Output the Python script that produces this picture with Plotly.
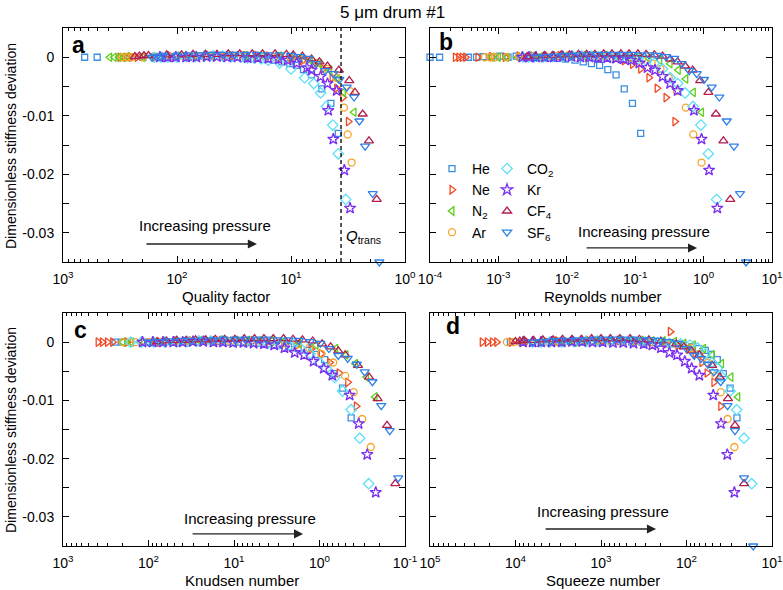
import plotly.graph_objects as go

W, H = 783, 590

# stiffness deviation per gas (same in every panel) and log10 of the x value in each panel
# order: increasing pressure. panels: q = quality factor, re = Reynolds, kn = Knudsen, sq = squeeze number
he_dev = [0, 0, 0, 0, 0.0001, 0, 0.0002, 0, 0.0002, 0.0001, 0, 0, -0.0001, -0.0002, -0.0003, -0.0005,
          -0.0008, -0.0011, -0.0014, -0.0021, -0.0030, -0.0054, -0.0079, -0.0130]
he_q_log = [2.81, 2.70, 2.42, 2.3, 2.2, 2.1, 2.0, 1.9, 1.8, 1.7, 1.6, 1.5, 1.4, 1.3, 1.2, 1.14,
            1.08, 1.01, 0.95, 0.89, 0.82, 0.73, 0.65, 0.585]
he_re_log = [-4.0, -3.86, -3.44, -3.32, -3.22, -3.1, -2.98, -2.86, -2.74, -2.62, -2.5, -2.38, -2.26, -2.14, -2.02, -1.88,
             -1.76, -1.64, -1.52, -1.40, -1.28, -1.16, -1.04, -0.92]
he_kn_log = [2.39, 2.31, 2.01, 1.89, 1.79, 1.67, 1.55, 1.43, 1.31, 1.19, 1.07, 0.95, 0.83, 0.71, 0.59, 0.47,
             0.36, 0.25, 0.14, 0.04, -0.06, -0.17, -0.27, -0.37]
he_sq_log = [4.06, 3.92, 3.6, 3.48, 3.36, 3.24, 3.12, 3.0, 2.88, 2.76, 2.64, 2.52, 2.40, 2.28, 2.16, 2.04,
             1.94, 1.86, 1.78, 1.71, 1.64, 1.57, 1.49, 1.41]

ne_dev = [0, 0, 0, 0, 0, 0.0001, 0, 0.0002, 0.0002, 0.0003, 0.0003, 0.0003, 0.0002, 0.0001, -0.0002, -0.0006,
          -0.0012, -0.0020, -0.0035, -0.0053, -0.0069, -0.0110, 0.0018]
ne_q_log = [2.5, 2.45, 2.4, 2.35, 2.2, 2.05, 1.9, 1.75, 1.6, 1.5, 1.4, 1.3, 1.2, 1.1, 1.0, 0.9,
            0.8, 0.72, 0.64, 0.6, 0.546, 0.497, None]
ne_re_log = [-3.63, -3.58, -3.53, -3.48, -3.3, -3.1, -2.9, -2.7, -2.5, -2.3, -2.1, -1.9, -1.7, -1.5, -1.3, -1.16,
             -1.04, -0.92, -0.80, -0.68, -0.55, -0.42, None]
ne_kn_log = [2.59, 2.54, 2.48, 2.42, 2.25, 2.06, 1.87, 1.68, 1.5, 1.32, 1.14, 0.96, 0.78, 0.6, 0.42, 0.27,
             0.1, -0.02, -0.12, -0.23, -0.33, -0.43, None]
ne_sq_log = [4.39, 4.33, 4.27, 4.22, 4.05, 3.87, 3.69, 3.51, 3.33, 3.15, 2.97, 2.79, 2.61, 2.43, 2.25, 2.1,
             1.98, 1.9, 1.82, 1.76, 1.68, 1.60, 2.19]

n2_dev = [0, 0, 0, 0, 0.0001, 0, 0.0001, 0.0002, 0.0002, 0.0003, 0.0003, 0.0003, 0.0002, 0.0002, 0.0001, -0.0002,
          -0.0005, -0.0011, -0.0022, -0.0037, -0.0060, -0.0094]
n2_q_log = [2.59, 2.55, 2.51, 2.47, 2.44, 2.3, 2.15, 2.0, 1.85, 1.7, 1.55, 1.4, 1.25, 1.1, 1.0, 0.92,
            0.83, 0.75, 0.66, 0.594, 0.541, 0.447]
n2_re_log = [-3.1, -3.0, -2.88, -2.72, -2.56, -2.4, -2.24, -2.08, -1.92, -1.76, -1.6, -1.44, -1.28, -1.12, -0.96, -0.8,
             -0.64, -0.49, -0.37, -0.26, -0.15, -0.03]
n2_kn_log = [2.3, 2.2, 2.1, 1.96, 1.82, 1.68, 1.54, 1.4, 1.26, 1.12, 0.98, 0.84, 0.7, 0.56, 0.42, 0.24,
             0.04, -0.19, -0.31, -0.42, -0.55, -0.65]
n2_sq_log = [3.9, 3.8, 3.7, 3.57, 3.44, 3.31, 3.18, 3.05, 2.92, 2.79, 2.66, 2.53, 2.4, 2.27, 2.14, 2.03,
             1.92, 1.8, 1.7, 1.59, 1.48, 1.40]

ar_dev = [0, 0, 0, 0, 0.0001, 0.0001, 0.0002, 0.0002, 0.0003, 0.0002, 0.0002, 0.0001, 0, -0.0002,
          -0.0004, -0.0010, -0.0020, -0.0035, -0.0058, -0.0086, -0.0132, -0.0180]
ar_q_log = [2.48, 2.44, 2.4, 2.3, 2.18, 2.06, 1.94, 1.82, 1.7, 1.58, 1.46, 1.3, 1.15, 1.0,
            0.88, 0.77, 0.68, 0.6, 0.482, 0.535, 0.503, 0.468]
ar_re_log = [-3.2, -3.12, -3.05, -2.88, -2.7, -2.52, -2.34, -2.16, -1.98, -1.8, -1.62, -1.44, -1.26, -1.08,
             -0.9, -0.76, -0.63, -0.51, -0.39, -0.26, -0.15, -0.03]
ar_kn_log = [2.3, 2.22, 2.15, 2.0, 1.84, 1.68, 1.52, 1.36, 1.2, 1.04, 0.88, 0.72, 0.56, 0.4,
             0.26, 0.12, -0.02, -0.16, -0.3, -0.4, -0.5, -0.6]
ar_sq_log = [4.1, 4.02, 3.95, 3.8, 3.65, 3.5, 3.35, 3.2, 3.05, 2.9, 2.75, 2.6, 2.42, 2.24,
             2.06, 1.95, 1.85, 1.75, 1.66, 1.6, 1.52, 1.44]

co2_dev = [0, 0, 0, 0, 0.0001, 0.0001, 0.0002, 0.0002, 0.0002, 0.0001, 0, -0.0001, -0.0002, -0.0003,
           -0.0005, -0.0010, -0.0020, -0.0035, -0.0045, -0.0061, -0.0084, -0.0116, -0.0165, -0.0243]
co2_q_log = [2.2, 2.14, 2.08, 2.0, 1.92, 1.84, 1.76, 1.68, 1.6, 1.52, 1.44, 1.38, 1.32, 1.26,
             1.2, 1.1, 1.0, 0.88, 0.8, 0.74, 0.69, 0.634, 0.585, 0.52]
co2_re_log = [-2.64, -2.56, -2.48, -2.34, -2.2, -2.06, -1.92, -1.78, -1.64, -1.5, -1.36, -1.22, -1.08, -0.96,
              -0.84, -0.72, -0.6, -0.49, -0.38, -0.27, -0.155, -0.04, 0.07, 0.19]
co2_kn_log = [2.21, 2.08, 1.94, 1.81, 1.67, 1.54, 1.41, 1.27, 1.14, 1.0, 0.87, 0.74, 0.6, 0.47,
              0.35, 0.23, 0.11, 0.0, -0.08, -0.18, -0.27, -0.37, -0.47, -0.575]
co2_sq_log = [3.8, 3.7, 3.6, 3.46, 3.32, 3.18, 3.04, 2.9, 2.76, 2.62, 2.48, 2.34, 2.2, 2.07,
              1.96, 1.87, 1.78, 1.70, 1.64, 1.58, 1.49, 1.413, 1.327, 1.237]

kr_dev = [0, 0, 0, 0, 0, 0.0001, 0.0001, 0, 0, -0.0001, -0.0001, -0.0002, -0.0003,
          -0.0005, -0.0010, -0.0018, -0.0022, -0.0033, -0.0045, -0.0057, -0.0091, -0.0140, -0.0193, -0.0258]
kr_q_log = [2.15, 2.08, 2.01, 1.92, 1.83, 1.74, 1.65, 1.56, 1.47, 1.38, 1.29, 1.2, 1.11,
            1.03, 0.95, 0.86, 0.82, 0.74, 0.68, 0.6, 0.673, 0.629, 0.532, 0.482]
kr_re_log = [-2.65, -2.55, -2.45, -2.32, -2.19, -2.06, -1.93, -1.8, -1.67, -1.54, -1.41, -1.28, -1.17,
             -1.06, -0.94, -0.82, -0.71, -0.6, -0.49, -0.38, -0.14, -0.03, 0.08, 0.2]
kr_kn_log = [2.07, 1.95, 1.83, 1.71, 1.6, 1.48, 1.36, 1.24, 1.13, 1.01, 0.89, 0.77, 0.65,
             0.53, 0.41, 0.29, 0.18, 0.07, -0.05, -0.15, -0.353, -0.458, -0.558, -0.658]
kr_sq_log = [3.91, 3.8, 3.7, 3.58, 3.46, 3.34, 3.22, 3.1, 2.98, 2.86, 2.74, 2.62, 2.5,
             2.4, 2.3, 2.2, 2.11, 2.02, 1.94, 1.85, 1.687, 1.597, 1.523, 1.44]

cf4_dev = [0.0001, 0.0002, 0.0003, 0.0003, 0.0004, 0.0004, 0.0005, 0.0005, 0.0005, 0.0006, 0.0006, 0.0006,
           0.0006, 0.0006, 0.0005, 0.0004, 0.0002,
           -0.0003, -0.0008, -0.0015, -0.0022, -0.0040, -0.0060, -0.0097, -0.0143, -0.0243]
cf4_q_log = [2.37, 2.33, 2.29, 2.25, 2.09, 1.96, 1.86, 1.75, 1.65, 1.55, 1.45, 1.34, 1.25, 1.14, 1.04, 0.98, 0.9,
             0.82, 0.75, 0.68, 0.58, 0.489, 0.439, 0.371, 0.316, 0.248]
cf4_re_log = [-2.58, -2.46, -2.33, -2.21, -2.08, -1.96, -1.83, -1.71, -1.59, -1.46, -1.34, -1.21, -1.09, -0.96,
              -0.84, -0.72, -0.6,
              -0.49, -0.38, -0.27, -0.16, -0.05, 0.07, 0.18, 0.29, 0.39]
cf4_kn_log = [1.9, 1.79, 1.67, 1.56, 1.45, 1.33, 1.22, 1.11, 0.99, 0.88, 0.76, 0.65, 0.54, 0.42, 0.31, 0.2, 0.08,
              -0.03, -0.13, -0.22, -0.3, -0.45, -0.58, -0.68, -0.79, -0.886]
cf4_sq_log = [4.0, 3.95, 3.9, 3.79, 3.68, 3.56, 3.45, 3.34, 3.23, 3.11, 3.0, 2.89, 2.78, 2.66, 2.55, 2.44, 2.3,
              2.12, 2.03, 1.94, 1.85, 1.70, 1.61, 1.515, 1.433, 1.327]

sf6_dev = [0, 0.0001, 0.0002, 0.0003, 0.0003, 0.0004, 0.0004, 0.0005, 0.0005, 0.0005, 0.0005, 0.0005,
           0.0004, 0.0004, 0.0003, 0.0001, -0.0002,
           -0.0011, -0.0023, -0.0028, -0.0038, -0.0051, -0.0068, -0.0109, -0.0152, -0.0233, -0.0350]
sf6_q_log = [2.22, 2.18, 2.15, 2.12, 2.0, 1.9, 1.8, 1.7, 1.6, 1.5, 1.4, 1.3, 1.2, 1.1, 1.0, 0.92, 0.85,
             0.78, 0.7, 0.63, 0.576, 0.511, 0.447, 0.40, 0.35, 0.283, 0.225]
sf6_re_log = [-2.44, -2.31, -2.19, -2.06, -1.94, -1.81, -1.68, -1.56, -1.43, -1.31, -1.18, -1.06, -0.93, -0.8,
              -0.68, -0.55, -0.43,
              -0.32, -0.21, -0.1, 0.006, 0.118, 0.23, 0.338, 0.444, 0.532, 0.62]
sf6_kn_log = [2.0, 1.87, 1.75, 1.62, 1.5, 1.37, 1.24, 1.12, 0.99, 0.87, 0.74, 0.62, 0.49, 0.36, 0.24, 0.11, -0.01,
              -0.11, -0.22, -0.33, -0.435, -0.529, -0.619, -0.722, -0.822, -0.921, -1.021]
sf6_sq_log = [3.8, 3.69, 3.59, 3.48, 3.38, 3.27, 3.16, 3.06, 2.95, 2.84, 2.74, 2.63, 2.53, 2.42, 2.31, 2.21, 2.1,
              2.0, 1.91, 1.83, 1.75, 1.68, 1.60, 1.52, 1.433, 1.327, 1.22]

Q_TRANS = 3.64

GASES = [
    ("He", he_dev, he_q_log, he_re_log, he_kn_log, he_sq_log),
    ("Ne", ne_dev, ne_q_log, ne_re_log, ne_kn_log, ne_sq_log),
    ("N<sub>2</sub>", n2_dev, n2_q_log, n2_re_log, n2_kn_log, n2_sq_log),
    ("Ar", ar_dev, ar_q_log, ar_re_log, ar_kn_log, ar_sq_log),
    ("CO<sub>2</sub>", co2_dev, co2_q_log, co2_re_log, co2_kn_log, co2_sq_log),
    ("Kr", kr_dev, kr_q_log, kr_re_log, kr_kn_log, kr_sq_log),
    ("CF<sub>4</sub>", cf4_dev, cf4_q_log, cf4_re_log, cf4_kn_log, cf4_sq_log),
    ("SF<sub>6</sub>", sf6_dev, sf6_q_log, sf6_re_log, sf6_kn_log, sf6_sq_log),
]

# marker style per gas: symbol, colour, size
STYLE = [
    ("square-open", "#3d8fe3", 6),
    ("triangle-right-open", "#f04a24", 7.5),
    ("triangle-left-open", "#5ccf1b", 7.5),
    ("circle-open", "#f5a52a", 7),
    ("diamond-open", "#5ee0f6", 8),
    ("star-open", "#7b2ff0", 8.5),
    ("triangle-up-open", "#b21e4b", 8),
    ("triangle-down-open", "#2f80e8", 8),
]

FONT = "Arial, Liberation Sans, sans-serif"


# pixel position in the 783x590 picture -> paper fraction
def fx(px):
    return px / W


def fy(py):
    return 1 - py / H


PANELS = [
    dict(rng=[3, 0], exps=[3, 2, 1, 0], xd=[fx(63), fx(405)], yd=[fy(262), fy(28)], ylab=True),
    dict(rng=[-4, 1], exps=[-4, -3, -2, -1, 0, 1], xd=[fx(430), fx(772)], yd=[fy(262), fy(28)], ylab=False),
    dict(rng=[3, -1], exps=[3, 2, 1, 0, -1], xd=[fx(63), fx(405)], yd=[fy(546), fy(313)], ylab=True),
    dict(rng=[5, 1], exps=[5, 4, 3, 2, 1], xd=[fx(430), fx(772)], yd=[fy(546), fy(313)], ylab=False),
]

fig = go.Figure()

for p in range(4):
    xa = "x" if p == 0 else f"x{p + 1}"
    ya = "y" if p == 0 else f"y{p + 1}"
    for g, (name, dev, *xlogs) in enumerate(GASES):
        sym, col, size = STYLE[g]
        xs = [10 ** v if v is not None else None for v in xlogs[p]]
        fig.add_trace(go.Scatter(
            x=xs, y=dev, mode="markers", name=name,
            marker=dict(symbol=sym, size=size, color=col, line=dict(color=col, width=1.3)),
            xaxis=xa, yaxis=ya, cliponaxis=False,
            showlegend=(p == 1), legend="legend" if g < 4 else "legend2",
        ))

# Q_trans marker line in panel a
fig.add_trace(go.Scatter(x=[Q_TRANS, Q_TRANS], y=[-0.035, 0.005], mode="lines",
                         line=dict(color="black", width=1.3, dash="4px,3px"),
                         xaxis="x", yaxis="y", showlegend=False, hoverinfo="skip"))

Y_TICKS = [0, -0.01, -0.02, -0.03]
Y_TICK_TEXT = ["0", "-0.01", "-0.02", "-0.03"]
Y_MINOR = [0.005, -0.005, -0.015, -0.025, -0.035]

layout = dict(
    width=W, height=H, margin=dict(l=0, r=0, t=0, b=0),
    paper_bgcolor="white", plot_bgcolor="white",
    font=dict(family=FONT, size=13, color="black"),
    legend=dict(x=fx(432), y=fy(153), xanchor="left", yanchor="top", bgcolor="rgba(0,0,0,0)",
                font=dict(size=14), itemwidth=30, tracegroupgap=0),
    legend2=dict(x=fx(487), y=fy(153), xanchor="left", yanchor="top", bgcolor="rgba(0,0,0,0)",
                 font=dict(size=14), itemwidth=30, tracegroupgap=0),
)

for p, pan in enumerate(PANELS):
    sfx = "" if p == 0 else str(p + 1)
    lo, hi = min(pan["rng"]), max(pan["rng"])
    minor_vals = [k * 10 ** e for e in range(lo, hi) for k in range(2, 10)]
    layout[f"xaxis{sfx}"] = dict(
        type="log", domain=pan["xd"], range=pan["rng"], anchor=f"y{sfx}", automargin=False,
        tickvals=[10 ** e for e in pan["exps"]],
        ticktext=[f"10<sup>{e}</sup>" for e in pan["exps"]],
        ticks="inside", ticklen=6, tickwidth=1, tickcolor="black",
        minor=dict(tickvals=minor_vals, ticks="inside", ticklen=3, tickwidth=1, tickcolor="black"),
        showline=True, linecolor="black", linewidth=1, mirror="ticks",
        showgrid=False, zeroline=False, tickfont=dict(size=14), ticklabelstandoff=4,
    )
    layout[f"yaxis{sfx}"] = dict(
        domain=pan["yd"], range=[-0.035, 0.005], anchor=f"x{sfx}", automargin=False,
        tickvals=Y_TICKS, ticktext=Y_TICK_TEXT, showticklabels=pan["ylab"],
        ticks="inside", ticklen=6, tickwidth=1, tickcolor="black",
        minor=dict(tickvals=Y_MINOR, ticks="inside", ticklen=6, tickwidth=1, tickcolor="black"),
        showline=True, linecolor="black", linewidth=1, mirror="ticks",
        showgrid=False, zeroline=False, tickfont=dict(size=14), ticklabelstandoff=5,
    )

fig.update_layout(**layout)

ann = []
ann.append(dict(text="5 \u03bcm drum #1", x=fx(392), y=fy(12), xref="paper", yref="paper",
                showarrow=False, font=dict(size=17), xanchor="center", yanchor="middle"))

# panel letters
for letter, px, py in [("a", 78, 45), ("b", 446, 42), ("c", 80, 330), ("d", 453, 326)]:
    ann.append(dict(text=f"<b>{letter}</b>", x=fx(px), y=fy(py), xref="paper", yref="paper",
                    showarrow=False, font=dict(size=23), xanchor="center", yanchor="middle"))

# axis titles
for txt, px, py in [("Quality factor", 226, 296), ("Reynolds number", 603, 296),
                    ("Knudsen number", 242, 580), ("Squeeze number", 603, 580)]:
    ann.append(dict(text=txt, x=fx(px), y=fy(py), xref="paper", yref="paper", showarrow=False,
                    font=dict(size=15), xanchor="center", yanchor="middle"))
for py in [146, 430]:
    ann.append(dict(text="Dimensionless stiffness deviation", x=fx(11), y=fy(py), xref="paper",
                    yref="paper", showarrow=False, textangle=-90, font=dict(size=14),
                    xanchor="center", yanchor="middle"))

# "Increasing pressure" label and arrow in each panel (domain coordinates)
ARROWS = [
    ("x", "y", 0.415, 0.154, 0.567, 0.077),
    ("x2", "y2", 0.626, 0.132, 0.781, 0.060),
    ("x3", "y3", 0.547, 0.120, 0.702, 0.052),
    ("x4", "y4", 0.506, 0.146, 0.661, 0.073),
]
for xa, ya, tx, ty, hx, hy in ARROWS:
    ann.append(dict(text="Increasing pressure", x=tx, y=ty, xref=f"{xa} domain", yref=f"{ya} domain",
                    showarrow=False, font=dict(size=15), xanchor="center", yanchor="middle"))
    ann.append(dict(text="", x=hx, y=hy, xref=f"{xa} domain", yref=f"{ya} domain",
                    showarrow=True, ax=-112, ay=0, arrowhead=2, arrowsize=1.4, arrowwidth=1.3,
                    arrowcolor="#222222"))

ann.append(dict(text="<i>Q</i><sub>trans</sub>", x=0.822, y=0.111, xref="x domain", yref="y domain",
                showarrow=False, font=dict(size=15), xanchor="left", yanchor="middle"))

fig.update_layout(annotations=ann)

# drop the default 8px page margin so the figure fills the window exactly
fig.write_html("out.html", config={"displayModeBar": False},
               post_script="document.body.style.margin = '0';")
